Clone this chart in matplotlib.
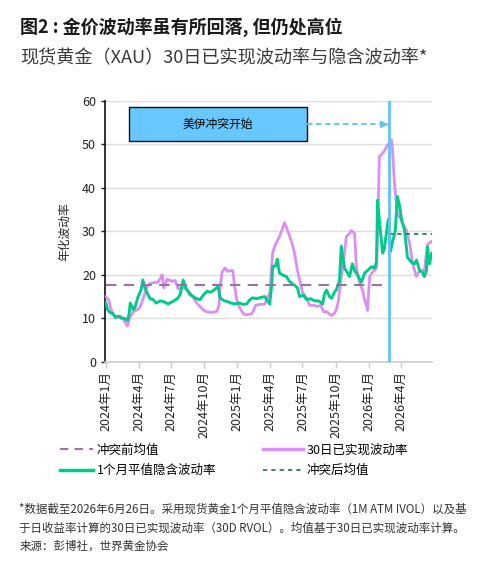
import warnings
warnings.filterwarnings('ignore')
import pandas as pd
import matplotlib; matplotlib.use('Agg')
import matplotlib.pyplot as plt
import matplotlib.dates as mdates
from matplotlib.patches import Rectangle
from matplotlib.lines import Line2D

plt.rcParams['font.family'] = ['Noto Sans CJK SC', 'DejaVu Sans']
plt.rcParams['axes.unicode_minus'] = False

# 30日已实现波动率 (RVOL)
rvol_dates = ['2024-01-01', '2024-01-09', '2024-01-13', '2024-01-22', '2024-02-02', '2024-02-10',
              '2024-02-18', '2024-02-24', '2024-03-01', '2024-03-09', '2024-03-18', '2024-03-29',
              '2024-04-05', '2024-04-13', '2024-04-25', '2024-05-03', '2024-05-14', '2024-05-25',
              '2024-06-03', '2024-06-06', '2024-06-10', '2024-06-20', '2024-07-04', '2024-07-12',
              '2024-07-20', '2024-08-03', '2024-08-14', '2024-08-22', '2024-09-02', '2024-09-10',
              '2024-09-19', '2024-09-27', '2024-10-08', '2024-10-22', '2024-11-05', '2024-11-11',
              '2024-11-14', '2024-11-19', '2024-11-27', '2024-12-05', '2024-12-14', '2024-12-19',
              '2024-12-25', '2024-12-30', '2025-01-07', '2025-01-18', '2025-01-27', '2025-02-07',
              '2025-02-12', '2025-02-21', '2025-03-04', '2025-03-18', '2025-03-26', '2025-04-01',
              '2025-04-09', '2025-04-17', '2025-04-28', '2025-05-06', '2025-05-12', '2025-05-17',
              '2025-05-26', '2025-06-03', '2025-06-09', '2025-06-17', '2025-06-23', '2025-07-01',
              '2025-07-12', '2025-07-21', '2025-08-01', '2025-08-12', '2025-08-21', '2025-08-29',
              '2025-09-06', '2025-09-14', '2025-09-20', '2025-09-28', '2025-10-03', '2025-10-09',
              '2025-10-17', '2025-10-26', '2025-10-31', '2025-11-09', '2025-11-14', '2025-11-23',
              '2025-11-28', '2025-12-07', '2025-12-15', '2025-12-21', '2025-12-26', '2025-12-29',
              '2026-01-04', '2026-01-10', '2026-01-17', '2026-01-23', '2026-01-26', '2026-01-31',
              '2026-02-09', '2026-02-14', '2026-02-23', '2026-03-03', '2026-03-06', '2026-03-08',
              '2026-03-14', '2026-03-22', '2026-04-02', '2026-04-11', '2026-04-16', '2026-04-25',
              '2026-05-03', '2026-05-14', '2026-05-23', '2026-06-05', '2026-06-14', '2026-06-26']
rvol = [15.0, 14.2, 12.7, 10.8, 10.2, 10.5, 10.0, 9.0, 8.2, 10.4, 11.5, 12.0,
        12.5, 14.3, 17.3, 18.0, 18.2, 18.3, 19.5, 20.0, 17.0, 19.0, 18.5, 18.7,
        16.8, 17.0, 16.5, 15.9, 14.5, 13.5, 12.7, 12.0, 11.5, 11.3, 11.6, 13.0,
        17.0, 20.5, 21.6, 20.8, 21.0, 21.0, 17.0, 14.3, 12.5, 11.0, 10.8, 11.0,
        11.2, 13.0, 13.2, 13.2, 15.0, 15.5, 25.0, 27.0, 28.8, 30.5, 32.0, 31.0,
        29.0, 27.0, 25.0, 21.0, 18.9, 16.0, 14.7, 13.0, 13.0, 12.7, 13.0, 11.5,
        11.5, 11.0, 10.6, 11.2, 12.0, 14.0, 19.6, 25.0, 28.8, 29.5, 30.2, 29.5,
        21.9, 18.1, 16.5, 14.3, 13.0, 11.8, 19.6, 20.4, 21.0, 21.5, 30.0, 47.2,
        48.0, 48.5, 49.9, 50.5, 51.0, 49.5, 41.0, 34.0, 32.6, 31.0, 30.3, 27.3,
        22.7, 19.6, 21.0, 21.0, 27.0, 27.7]

# 1个月平值隐含波动率 (IVOL)
ivol_dates = ['2024-01-01', '2024-01-06', '2024-01-13', '2024-01-22', '2024-01-27', '2024-02-05',
              '2024-02-13', '2024-02-22', '2024-03-01', '2024-03-06', '2024-03-09', '2024-03-18',
              '2024-03-22', '2024-03-31', '2024-04-08', '2024-04-13', '2024-04-19', '2024-04-25',
              '2024-05-03', '2024-05-12', '2024-05-20', '2024-05-31', '2024-06-11', '2024-06-22',
              '2024-07-04', '2024-07-18', '2024-07-26', '2024-08-03', '2024-08-08', '2024-08-14',
              '2024-08-22', '2024-08-31', '2024-09-10', '2024-09-19', '2024-09-30', '2024-10-08',
              '2024-10-19', '2024-10-28', '2024-11-08', '2024-11-14', '2024-11-25', '2024-12-03',
              '2024-12-14', '2024-12-25', '2025-01-07', '2025-01-18', '2025-01-27', '2025-02-04',
              '2025-02-12', '2025-02-24', '2025-03-07', '2025-03-18', '2025-03-26', '2025-04-01',
              '2025-04-07', '2025-04-09', '2025-04-17', '2025-04-22', '2025-04-28', '2025-05-06',
              '2025-05-17', '2025-05-26', '2025-06-03', '2025-06-11', '2025-06-17', '2025-06-23',
              '2025-07-04', '2025-07-12', '2025-07-23', '2025-08-04', '2025-08-15', '2025-08-26',
              '2025-08-31', '2025-09-06', '2025-09-14', '2025-09-20', '2025-09-28', '2025-10-03',
              '2025-10-12', '2025-10-17', '2025-10-26', '2025-11-03', '2025-11-09', '2025-11-17',
              '2025-11-23', '2025-11-28', '2025-12-07', '2025-12-12', '2025-12-21', '2025-12-29',
              '2026-01-10', '2026-01-17', '2026-01-23', '2026-01-26', '2026-01-31', '2026-02-09',
              '2026-02-14', '2026-02-20', '2026-02-25', '2026-03-03', '2026-03-08', '2026-03-16',
              '2026-03-22', '2026-03-28', '2026-04-03', '2026-04-11', '2026-04-19', '2026-05-03',
              '2026-05-09', '2026-05-14', '2026-05-23', '2026-05-31', '2026-06-05', '2026-06-11',
              '2026-06-14', '2026-06-19', '2026-06-26']
ivol = [13.5, 12.0, 11.3, 11.0, 10.2, 10.5, 10.0, 10.0, 9.5, 11.0, 13.5, 12.0,
        12.5, 15.0, 16.5, 18.8, 17.0, 15.8, 14.5, 14.3, 13.5, 14.0, 13.8, 13.3,
        13.8, 14.5, 15.5, 18.8, 17.5, 16.5, 15.5, 15.0, 14.5, 14.3, 15.5, 16.2,
        16.0, 16.5, 17.3, 14.7, 14.0, 13.9, 13.5, 13.3, 13.5, 13.2, 13.3, 14.2,
        14.7, 14.5, 14.8, 15.0, 14.0, 13.3, 18.0, 21.9, 22.0, 23.6, 20.4, 20.0,
        19.6, 18.5, 17.9, 17.5, 17.0, 15.0, 15.3, 14.3, 14.5, 14.0, 14.0, 13.3,
        15.5, 16.5, 15.0, 14.6, 16.0, 16.5, 18.5, 26.6, 21.5, 20.5, 19.6, 22.5,
        21.0, 20.4, 19.0, 18.3, 20.4, 21.0, 21.9, 21.5, 23.0, 37.2, 32.5, 25.0,
        26.0, 30.0, 32.8, 25.4, 27.3, 30.0, 38.0, 36.0, 32.5, 30.3, 24.0, 22.7,
        22.5, 23.4, 21.0, 20.5, 19.6, 21.0, 26.4, 22.5, 25.0]

pre_mean = 17.6
post_mean = 29.3
conflict_date = '2026-02-28'
pre_end = '2026-02-14'
data_end = '2026-06-26'

tick_dates = pd.date_range('2024-01-01', '2026-04-01', freq='QS')
tick_labels = [f'{d.year}年{d.month}月' for d in tick_dates]

fig = plt.figure(figsize=(4.82, 5.67), dpi=100)
ax = fig.add_axes([0.218, 0.362, 0.678, 0.460])

C_RVOL = '#db8ef5'
C_IVOL = '#00cc8a'
C_PRE = '#9a6fae'
C_POST = '#1f6b5c'
C_BLUE = '#5fc3f7'

ax.plot(pd.to_datetime(rvol_dates), rvol, color=C_RVOL, lw=2.0, zorder=3)
ax.plot(pd.to_datetime(ivol_dates), ivol, color=C_IVOL, lw=2.1, zorder=4)
ax.plot(pd.to_datetime(['2024-01-01', pre_end]), [pre_mean, pre_mean],
        color=C_PRE, lw=1.5, ls=(0, (5, 3.5)), zorder=5)
ax.plot(pd.to_datetime([conflict_date, data_end]), [post_mean, post_mean],
        color=C_POST, lw=1.2, ls=(0, (2.5, 2.5)), zorder=5)
ax.axvline(pd.to_datetime(conflict_date), color=C_BLUE, lw=2, zorder=6)

# annotation box and arrow
x0 = mdates.date2num(pd.Timestamp('2024-03-06'))
x1 = mdates.date2num(pd.Timestamp('2025-07-13'))
ax.add_patch(Rectangle((x0, 50.8), x1 - x0, 7.8, facecolor='#66c8ff',
                       edgecolor='#111111', lw=1.0, zorder=7))
ax.text((x0 + x1) / 2, 54.7, '美伊冲突开始', ha='center', va='center', fontsize=8.5, zorder=8)
ax.plot(pd.to_datetime(['2025-07-14', '2026-02-15']), [54.6, 54.6],
        color=C_BLUE, lw=1.3, ls=(0, (3, 2)), zorder=7)
ax.annotate('', xy=(pd.Timestamp('2026-02-25'), 54.6), xytext=(pd.Timestamp('2026-02-13'), 54.6),
            arrowprops=dict(arrowstyle='-|>', color=C_BLUE, lw=1.3, mutation_scale=10), zorder=7)

ax.set_ylim(0, 60)
ax.set_yticks(range(0, 61, 10))
ax.set_xlim(pd.Timestamp('2023-12-30'), pd.Timestamp(data_end))
ax.set_xticks(tick_dates)
ax.set_xticklabels(tick_labels, rotation=90, fontsize=9, color='#222222')
ax.tick_params(axis='y', labelsize=9, colors='#222222', length=3, width=1)
ax.tick_params(axis='x', length=4, width=1, color='#cccccc', pad=3)
ax.grid(axis='y', color='#dddddd', lw=1)
ax.set_axisbelow(True)
for s in ['top', 'right']:
    ax.spines[s].set_visible(False)
ax.spines['left'].set_color('#111111')
ax.spines['left'].set_linewidth(1.2)
ax.spines['bottom'].set_color('#cccccc')
ax.spines['bottom'].set_linewidth(1.2)
ax.set_ylabel('年化波动率', fontsize=8.5, color='#222222', labelpad=8)

fig.text(0.042, 0.952, '图2 : 金价波动率虽有所回落, 但仍处高位', fontsize=13,
         fontweight='bold', color='#1a1a1a', va='center')
fig.text(0.042, 0.897, '现货黄金（XAU）30日已实现波动率与隐含波动率*', fontsize=13.1,
         color='#3a3a3a', va='center')

h_pre = Line2D([], [], color=C_PRE, lw=1.5, ls=(0, (4, 3)))
h_ivol = Line2D([], [], color=C_IVOL, lw=2.5)
h_rvol = Line2D([], [], color=C_RVOL, lw=2.5)
h_post = Line2D([], [], color=C_POST, lw=1.2, ls=(0, (2.5, 2.5)))
fig.legend([h_pre, h_ivol], ['冲突前均值', '1个月平值隐含波动率'], loc='upper left',
           bbox_to_anchor=(0.115, 0.226), frameon=False, fontsize=9, handlelength=2.6,
           handletextpad=0.3, labelspacing=0.6, borderaxespad=0)
fig.legend([h_rvol, h_post], ['30日已实现波动率', '冲突后均值'], loc='upper left',
           bbox_to_anchor=(0.535, 0.226), frameon=False, fontsize=9, handlelength=3.2,
           handletextpad=0.3, labelspacing=0.6, borderaxespad=0)

foot = ('*数据截至2026年6月26日。采用现货黄金1个月平值隐含波动率（1M ATM IVOL）以及基\n'
        '于日收益率计算的30日已实现波动率（30D RVOL）。均值基于30日已实现波动率计算。\n'
        '来源：彭博社，世界黄金协会')
fig.text(0.040, 0.113, foot, fontsize=8.3, color='#333333', va='top', linespacing=1.55)

fig.savefig('out.png', dpi=100)
plt.close(fig)
